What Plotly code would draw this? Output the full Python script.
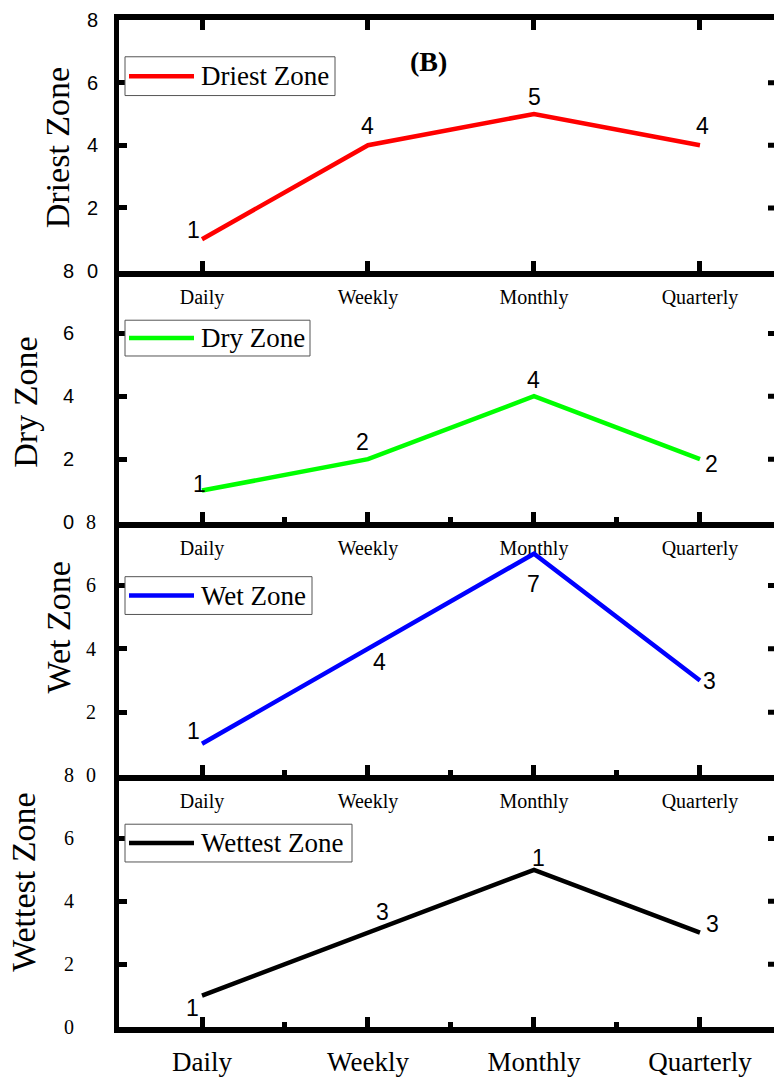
import plotly.graph_objects as go

categories = ["Daily", "Weekly", "Monthly", "Quarterly"]
zones = ["Driest Zone", "Dry Zone", "Wet Zone", "Wettest Zone"]
driest = [1, 4, 5, 4]
dry = [1, 2, 4, 2]
wet = [1, 4, 7, 3]
wettest = [1, 3, 5, 3]
driest_labels = ["1", "4", "5", "4"]
dry_labels = ["1", "2", "4", "2"]
wet_labels = ["1", "4", "7", "3"]
wettest_labels = ["1", "3", "1", "3"]
y_ticks = [0, 2, 4, 6, 8]
right_ticks = [2, 4, 6]

series = [driest, dry, wet, wettest]
labels = [driest_labels, dry_labels, wet_labels, wettest_labels]
colors = ["#FF0000", "#00FF00", "#0000FF", "#000000"]

W, H = 774, 1077
ML, MR, MT, MB = 119, 0, 20, 44
PW = W - ML - MR
PH = H - MT - MB


def px2x(px):
    return (px - ML) / PW


def py2y(py):
    return (H - MB - py) / PH


# panel pixel boundaries (top, bottom)
bounds = [(20, 272), (272, 525), (525, 780), (780, 1033)]

SERIF = "Times New Roman, Liberation Serif, serif"
SANS = "Arial, Liberation Sans, sans-serif"

fig = go.Figure()
xs = list(range(len(categories)))

# label offsets (style): (xshift, yshift) per point
offsets = [
    [(-9, 9), (0, 19), (1, 17), (3, 19)],
    [(-3, 7), (-5, 17), (0, 16), (12, -5)],
    [(-9, 13), (12, -13), (0, -30), (10, -1)],
    [(-10, -12), (15, 21), (5, 12), (13, 9)],
]
ytick_font = [SANS, SANS, SERIF, SERIF]
ytick_standoff = [12, 36, 14, 36]
title_x = [57, 26, 58, 24]
title_y = [149, 405, 631, 888]

annotations = []
shapes = []
for i in range(4):
    n = i + 1
    sfx = "" if n == 1 else str(n)
    fig.add_trace(go.Scatter(
        x=xs, y=series[i], mode="lines",
        line=dict(color=colors[i], width=4.5),
        xaxis="x" + sfx, yaxis="y" + sfx, showlegend=False,
        name=zones[i],
    ))
    top, bot = bounds[i]
    dom = [py2y(bot), py2y(top)]
    xa = dict(
        domain=[0, 1], anchor="y" + sfx, range=[-0.5, 3.446],
        tickmode="array", tickvals=xs, ticktext=categories,
        ticks="inside", ticklen=10, tickwidth=5, tickcolor="black",
        showline=True, linewidth=6, linecolor="black",
        showgrid=False, zeroline=False,
        tickfont=dict(family=SERIF, size=27 if n == 4 else 20, color="black"),
        ticklabelstandoff=6 if n == 4 else 3,
    )
    if n == 1:
        xa["mirror"] = "ticks"
    else:
        xa["minor"] = dict(tickmode="array", tickvals=[0.5, 1.5, 2.5],
                           ticks="inside", ticklen=5, tickwidth=5,
                           tickcolor="black", showgrid=False)
    ya = dict(
        domain=dom, anchor="x" + sfx, range=[0, 8],
        tickmode="array", tickvals=y_ticks,
        ticks="inside", ticklen=8, tickwidth=5, tickcolor="black",
        showline=True, linewidth=5, linecolor="black",
        showgrid=False, zeroline=False,
        tickfont=dict(family=ytick_font[i], size=20, color="black"),
        ticklabelstandoff=ytick_standoff[i],
    )
    fig.layout["xaxis" + sfx] = xa
    fig.layout["yaxis" + sfx] = ya

    # right-hand frame ticks (the frame line itself lies beyond the visible edge)
    for t in right_ticks:
        shapes.append(dict(type="line", xref="paper", yref="y" + sfx,
                           x0=px2x(768), x1=1.0, y0=t, y1=t,
                           line=dict(color="black", width=5), layer="above"))

    # data labels
    for j, (xv, yv) in enumerate(zip(xs, series[i])):
        dx, dy = offsets[i][j]
        annotations.append(dict(
            x=xv, y=yv, xref="x" + sfx, yref="y" + sfx, text=labels[i][j],
            showarrow=False, xshift=dx, yshift=dy,
            font=dict(family=SANS, size=23, color="black"),
        ))
    # y title
    annotations.append(dict(
        x=px2x(title_x[i]), y=py2y(title_y[i]), xref="paper", yref="paper",
        text=zones[i], textangle=-90, showarrow=False,
        xanchor="center", yanchor="middle",
        font=dict(family=SERIF, size=34, color="black"),
    ))

# legend boxes (drawn manually to match the long line samples)
legend_boxes = [(125, 57, 335, 96), (125, 322, 310, 358), (125, 580, 312, 618), (125, 829, 352, 867)]
for i, (x0, y0, x1, y1) in enumerate(legend_boxes):
    shapes.append(dict(type="rect", xref="paper", yref="paper",
                       x0=px2x(x0), x1=px2x(x1), y0=py2y(y1), y1=py2y(y0),
                       line=dict(color="#555555", width=1), fillcolor="white", layer="above"))
    ym = (y0 + y1) / 2
    shapes.append(dict(type="line", xref="paper", yref="paper",
                       x0=px2x(129), x1=px2x(194), y0=py2y(ym), y1=py2y(ym),
                       line=dict(color=colors[i], width=4.5), layer="above"))
    annotations.append(dict(
        x=px2x(199), y=py2y(ym), xref="paper", yref="paper", text=zones[i],
        showarrow=False, xanchor="left", yanchor="middle",
        font=dict(family=SERIF, size=27, color="black"),
    ))

annotations.append(dict(
    x=px2x(428), y=py2y(62), xref="paper", yref="paper", text="<b>(B)</b>",
    showarrow=False, xanchor="center", yanchor="middle",
    font=dict(family=SERIF, size=28, color="black"),
))

fig.update_layout(
    width=W, height=H,
    margin=dict(l=ML, r=MR, t=MT, b=MB),
    paper_bgcolor="white", plot_bgcolor="white",
    annotations=annotations, shapes=shapes,
    showlegend=False,
)

fig.write_html("out.html")
